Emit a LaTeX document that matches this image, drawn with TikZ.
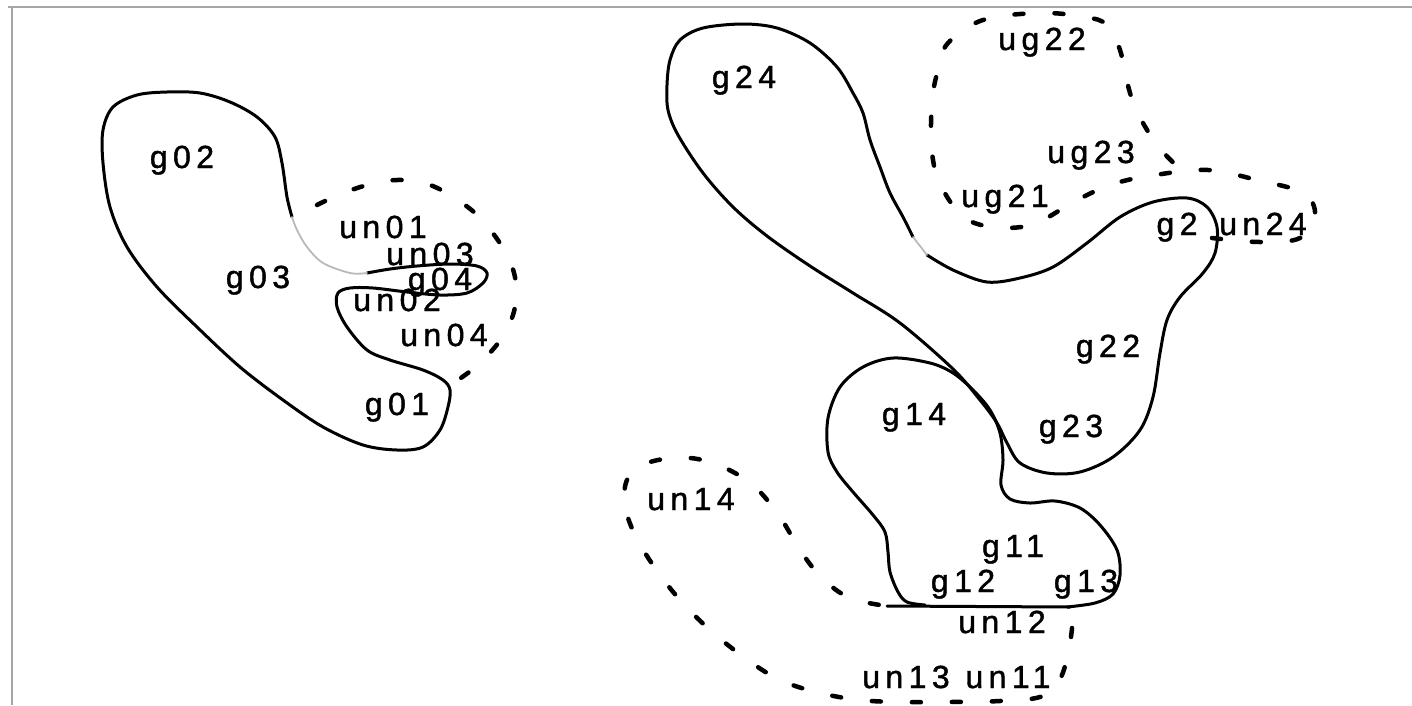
\documentclass[tikz,border=0pt]{standalone}
\usepackage{fontspec}
\setmainfont{Liberation Sans}[LetterSpace=17, FakeBold=1.3]
\begin{document}
\begin{tikzpicture}[x=1pt,y=-1pt,
  lbl/.style={anchor=base, inner sep=0pt, font=\fontsize{32}{33}\selectfont},
  outline/.style={line width=3pt, line join=round, line cap=round},
  faint/.style={line width=1.8pt, gray!55, line cap=round},
  dashline/.style={line width=4.5pt, line cap=round, dash pattern=on 9pt off 31pt},
  frame/.style={line width=2pt, gray!70}]
\useasboundingbox (0,0) rectangle (1412,705);
% frame
\draw[frame] (8,7) -- (1412,7);
\draw[frame] (12,7) -- (12,705);

% ---------- left group ----------
\draw[outline] plot[smooth, tension=0.55] coordinates {
 (292,217) (287,197) (282,163) (275,137) (257,117) (230,102) (200,93) (167,92)
 (137,95) (113,107) (103,130) (103,163) (110,207) (127,247) (157,287) (197,327)
 (240,367) (283,400) (323,427) (363,445) (397,450) (423,447) (440,430) (448,407)
 (450,390) (443,380) (423,370) (390,360) (367,350) (347,327) (337,307) (338,293)
 (350,288) (373,288) (407,292) (440,295) (467,293) (483,283) (487,273) (477,266)
 (450,264) (417,266) (390,269) (367,273)};
\draw[faint] plot[smooth, tension=0.55] coordinates {
 (367,273) (350,273) (323,263) (307,247) (297,230) (292,217)};
\draw[dashline] plot[smooth, tension=0.6] coordinates {
 (317,205) (343,193) (375,183) (403,180) (430,185) (453,197) (475,213) (492,232)
 (507,255) (515,277) (516,298) (513,315) (505,333) (495,347) (478,365) (458,380)};

\node[lbl] (g02) at (182,168) {g02};
\node[lbl] (g03) at (258,288) {g03};
\node[lbl] (un01) at (383,238) {un01};
\node[lbl] (un03) at (430,265) {un03};
\node[lbl] (g04) at (440,290) {g04};
\node[lbl] (un02) at (397,311) {un02};
\node[lbl] (un04) at (444,346) {un04};
\node[lbl] (g01) at (397,415) {g01};

% ---------- right group ----------
% g24 + g22 + g23 outline
\draw[outline] plot[smooth, tension=0.55] coordinates {
 (913,237) (903,217) (890,193) (880,167) (870,140) (863,113) (853,93) (837,67)
 (810,43) (777,28) (743,24) (703,28) (680,40) (670,60) (667,85) (668,110)
 (678,135) (703,173) (733,207) (767,236) (810,266) (853,293) (900,323)
 (953,369) (980,400) (997,423) (1007,443) (1020,463) (1047,473) (1080,472)
 (1113,457) (1140,430) (1153,397) (1160,353) (1167,320) (1180,297) (1203,273) (1215,253)
 (1217,227) (1207,207) (1187,198) (1153,202) (1120,217) (1087,243) (1053,267) (1020,278)
 (987,282) (953,270) (927,255)};
\draw[faint] plot[smooth] coordinates {(927,255) (920,246) (913,237)};

% g14 / g11 outline
\draw[outline] plot[smooth, tension=0.55] coordinates {
 (925,605) (907,602) (898,592) (890,572) (888,552) (885,532) (873,515) (853,492)
 (837,472) (828,452) (828,418) (840,387) (863,367) (893,358) (930,363) (953,373)
 (973,390) (990,410) (1000,433) (1003,460) (1001,485) (1010,499) (1030,503) (1055,501)
 (1080,508) (1100,525) (1117,550) (1120,575) (1113,594) (1095,603) (1067,607)};
\draw[outline] (887,606) -- (1070,607);

% un14 dashed
\draw[dashline] plot[smooth, tension=0.6] coordinates {
 (1072,628) (1068,655) (1058,683) (1040,697) (1000,701) (950,702) (900,702) (860,700)
 (820,693) (780,680) (745,658) (710,630) (680,600) (655,568) (635,535) (625,505)
 (628,478) (650,462) (690,458) (725,468) (755,487) (780,517) (800,550) (822,578)
 (850,598) (887,606)};

% ug / un24 dashed
\draw[dashline] plot[smooth, tension=0.6] coordinates {
 (1212,238) (1260,242) (1300,238) (1315,215) (1303,193) (1257,180) (1208,170) (1155,175)
 (1113,184) (1077,200) (1027,226) (972,222) (943,190) (932,153) (932,102) (938,70)
 (948,43) (983,20) (1040,13) (1085,17) (1107,25) (1120,50) (1130,93) (1143,123)
 (1163,152) (1195,183)};

\node[lbl] (g24) at (744,88) {g24};
\node[lbl] (ug22) at (1042,50) {ug22};
\node[lbl] (ug23) at (1091,163) {ug23};
\node[lbl] (ug21) at (1005,207) {ug21};
\node[lbl] (g2) at (1177,235) {g2};
\node[lbl] (un24) at (1263,235) {un24};
\node[lbl] (g22) at (1108,357) {g22};
\node[lbl] (g23) at (1071,437) {g23};
\node[lbl] (g14) at (914,425) {g14};
\node[lbl] (un14) at (691,510) {un14};
\node[lbl] (g11) at (1013,557) {g11};
\node[lbl] (g12) at (963,592) {g12};
\node[lbl] (g13) at (1086,592) {g13};
\node[lbl] (un12) at (1002,633) {un12};
\node[lbl] (un13) at (906,688) {un13};
\node[lbl] (un11) at (1008,688) {un11};
\end{tikzpicture}
\end{document}
